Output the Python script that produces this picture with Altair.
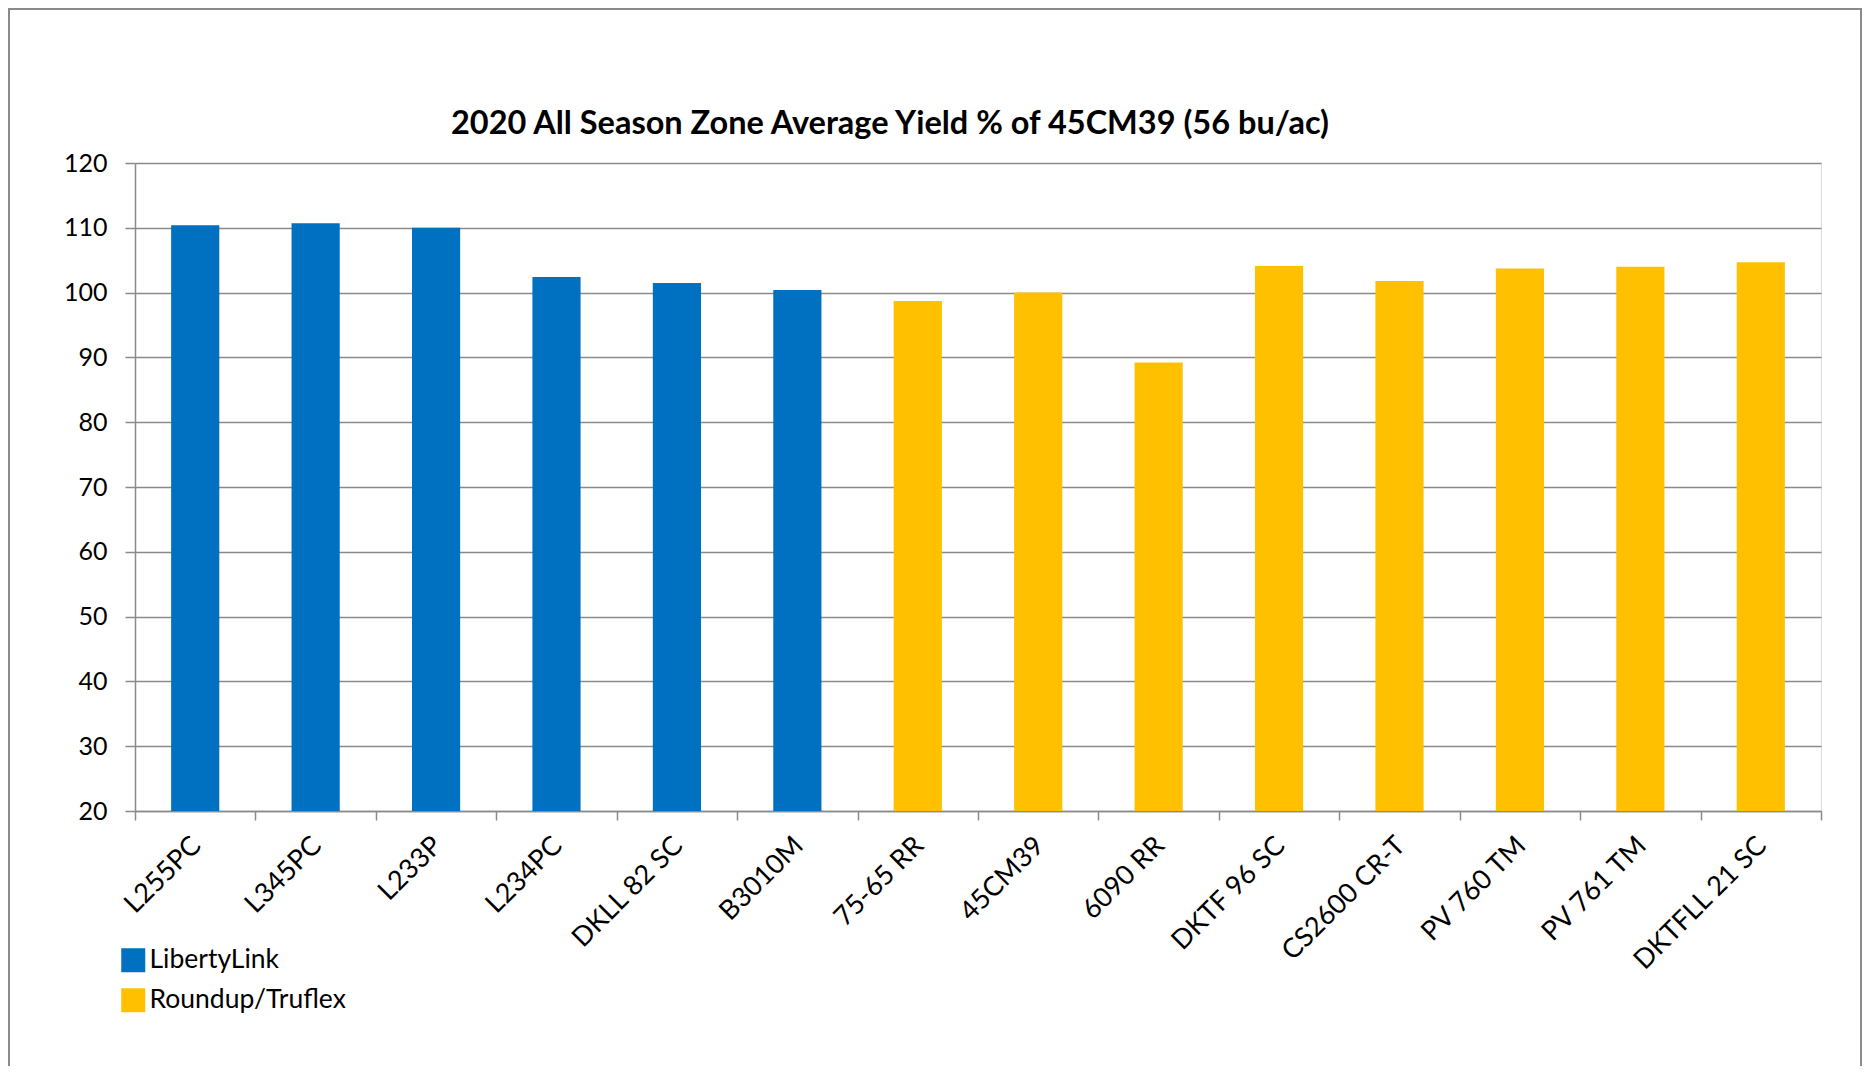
import altair as alt
import pandas as pd

varieties = ["L255PC", "L345PC", "L233P", "L234PC", "DKLL 82 SC", "B3010M", "75-65 RR",
             "45CM39", "6090 RR", "DKTF 96 SC", "CS2600 CR-T", "PV 760 TM", "PV 761 TM",
             "DKTFLL 21 SC"]
yields = [110.4, 110.7, 110.0, 102.4, 101.5, 100.4, 98.7,
          100.0, 89.2, 104.1, 101.8, 103.7, 104.0, 104.7]
traits = ["LibertyLink", "LibertyLink", "LibertyLink", "LibertyLink", "LibertyLink",
          "LibertyLink", "Roundup/Truflex", "Roundup/Truflex", "Roundup/Truflex",
          "Roundup/Truflex", "Roundup/Truflex", "Roundup/Truflex", "Roundup/Truflex",
          "Roundup/Truflex"]
trait_names = ["LibertyLink", "Roundup/Truflex"]
trait_colors = ["#0070C0", "#FFC000"]
y_ticks = [20, 30, 40, 50, 60, 70, 80, 90, 100, 110, 120]

df = pd.DataFrame({"variety": varieties, "yield": yields, "trait": traits})

FONT = "Lato"
GRID = "#8a8a8a"

bars = alt.Chart(df).mark_bar(clip=True, width=alt.RelativeBandSize(0.4)).encode(
    x=alt.X(
        "variety:N",
        sort=varieties,
        scale=alt.Scale(paddingInner=0, paddingOuter=0),
        axis=alt.Axis(
            title=None, labelAngle=315, labelAlign="right", labelBaseline="top",
            labelFont=FONT, labelFontSize=27, labelColor="#000000",
            tickBand="extent", tickSize=9, tickColor=GRID, tickWidth=1.5,
            domainColor=GRID, domainWidth=1.5, labelPadding=12, labelOffset=-8,
            grid=False, labelLimit=400,
        ),
    ),
    y=alt.Y(
        "yield:Q",
        scale=alt.Scale(domain=[20, 120], nice=False, zero=False),
        axis=alt.Axis(
            title=None, values=y_ticks, grid=True, gridColor=GRID, gridWidth=1.5,
            tickSize=10, tickColor=GRID, tickWidth=1.5, domainColor=GRID,
            domainWidth=1.5, labelFont=FONT, labelFontSize=25, labelColor="#000000",
            labelPadding=18,
        ),
    ),
    color=alt.Color(
        "trait:N",
        scale=alt.Scale(domain=trait_names, range=trait_colors),
        legend=alt.Legend(
            title=None, orient="none", legendX=-15, legendY=784, direction="vertical",
            symbolType="square", symbolSize=576, symbolStrokeWidth=0,
            labelFont=FONT, labelFontSize=26.5, labelColor="#000000", labelOffset=3,
            rowPadding=13, padding=0, labelLimit=500,
        ),
    ),
)

frame = alt.Chart(pd.DataFrame({"f": [0]})).mark_rect(
    fill="transparent", stroke=GRID, strokeWidth=2
).encode(
    x=alt.value(-126), x2=alt.value(1726), y=alt.value(-154), y2=alt.value(1000)
)

chart = alt.layer(frame, bars).properties(
    width=1686,
    height=648,
    padding={"left": 127, "top": 155, "right": 41, "bottom": 255},
    autosize=alt.AutoSizeParams(type="none"),
    title=alt.Title(
        "2020 All Season Zone Average Yield % of 45CM39 (56 bu/ac)",
        font=FONT, fontSize=32.5, fontWeight="bold", color="#000000",
        anchor="middle", frame="group", dx=-88, offset=-158, baseline="alphabetic",
    ),
).configure_view(stroke="transparent").configure(background="white")

chart.save("out.html", embed_options={"renderer": "svg", "actions": False})
